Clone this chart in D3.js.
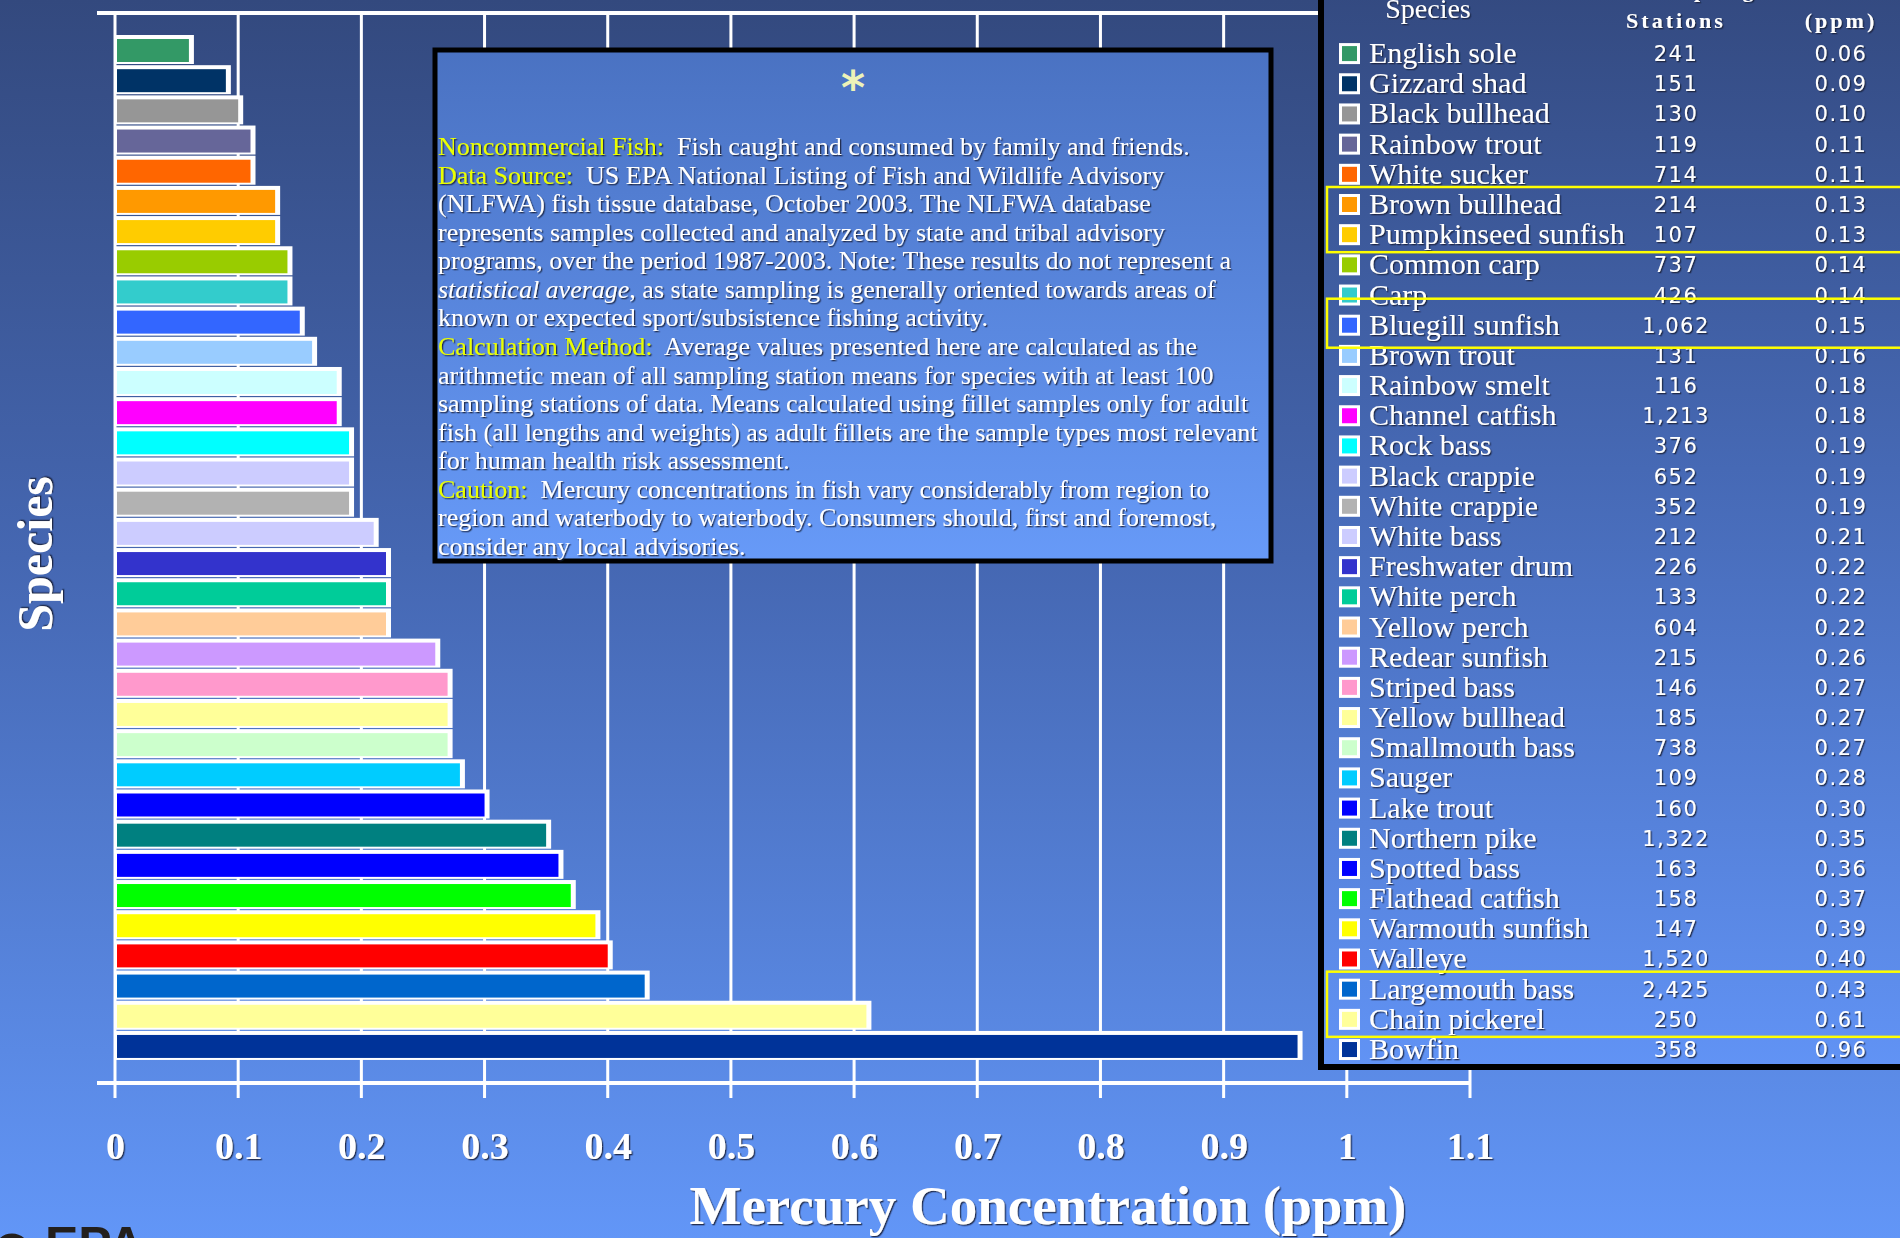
<!DOCTYPE html>
<html>
<head>
<meta charset="utf-8">
<script src="https://cdn.jsdelivr.net/npm/d3@7"></script>
<style>
  html, body { margin: 0; padding: 0; background: #33497f; overflow: hidden; }
  svg { display: block; }
  text { white-space: pre; }
</style>
</head>
<body>
<svg id="chart" width="1900" height="1238"></svg>
<script>
// ---------------- DATA ----------------
const species = ["English sole","Gizzard shad","Black bullhead","Rainbow trout","White sucker",
  "Brown bullhead","Pumpkinseed sunfish","Common carp","Carp","Bluegill sunfish","Brown trout",
  "Rainbow smelt","Channel catfish","Rock bass","Black crappie","White crappie","White bass",
  "Freshwater drum","White perch","Yellow perch","Redear sunfish","Striped bass","Yellow bullhead",
  "Smallmouth bass","Sauger","Lake trout","Northern pike","Spotted bass","Flathead catfish",
  "Warmouth sunfish","Walleye","Largemouth bass","Chain pickerel","Bowfin"];
const stations = [241,151,130,119,714,214,107,737,426,1062,131,116,1213,376,652,352,212,226,133,
  604,215,146,185,738,109,160,1322,163,158,147,1520,2425,250,358];
const mercury = [0.06,0.09,0.10,0.11,0.11,0.13,0.13,0.14,0.14,0.15,0.16,0.18,0.18,0.19,0.19,0.19,
  0.21,0.22,0.22,0.22,0.26,0.27,0.27,0.27,0.28,0.30,0.35,0.36,0.37,0.39,0.40,0.43,0.61,0.96];
const barColors = ["#339966","#003366","#969696","#666699","#ff6600","#ff9900","#ffcc00","#99cc00",
  "#33cccc","#3366ff","#99ccff","#ccffff","#ff00ff","#00ffff","#ccccff","#b2b2b2","#ccccff",
  "#3333cc","#00cc99","#ffcc99","#cc99ff","#ff99cc","#ffff99","#ccffcc","#00ccff","#0000ff",
  "#008080","#0000ff","#00ff00","#ffff00","#ff0000","#0066cc","#ffff99","#003399"];
const xTicks = [0,0.1,0.2,0.3,0.4,0.5,0.6,0.7,0.8,0.9,1.0,1.1];
const xTickLabels = ["0","0.1","0.2","0.3","0.4","0.5","0.6","0.7","0.8","0.9","1","1.1"];
const highlightGroups = [["Brown bullhead","Pumpkinseed sunfish"],["Bluegill sunfish"],["Largemouth bass","Chain pickerel"]];
const xTitle = "Mercury Concentration (ppm)";
const yTitle = "Species";
const legendHeaders = {species:"Species", stationsTop:"Sampling", stations:"Stations", ppm:"(ppm)"};
const noteLines = [
  [["Noncommercial Fish:","hl"],["  Fish caught and consumed by family and friends.",""]],
  [["Data Source:","hl"],["  US EPA National Listing of Fish and Wildlife Advisory",""]],
  [["(NLFWA) fish tissue database, October 2003. The NLFWA database",""]],
  [["represents samples collected and analyzed by state and tribal advisory",""]],
  [["programs, over the period 1987-2003. Note: These results do not represent a",""]],
  [["statistical average","it"],[", as state sampling is generally oriented towards areas of",""]],
  [["known or expected sport/subsistence fishing activity.",""]],
  [["Calculation Method:","hl"],["  Average values presented here are calculated as the",""]],
  [["arithmetic mean of all sampling station means for species with at least 100",""]],
  [["sampling stations of data. Means calculated using fillet samples only for adult",""]],
  [["fish (all lengths and weights) as adult fillets are the sample types most relevant",""]],
  [["for human health risk assessment.",""]],
  [["Caution:","hl"],["  Mercury concentrations in fish vary considerably from region to",""]],
  [["region and waterbody to waterbody. Consumers should, first and foremost,",""]],
  [["consider any local advisories.",""]]
];

// ---------------- DRAW ----------------
const W = 1900, H = 1238;
const svg = d3.select("#chart");
const defs = svg.append("defs");

function vgrad(id, stops) {
  const g = defs.append("linearGradient").attr("id", id)
    .attr("x1", 0).attr("y1", 0).attr("x2", 0).attr("y2", 1);
  stops.forEach(s => g.append("stop").attr("offset", s[0]).attr("stop-color", s[1]));
}
vgrad("bg", [[0, "#33497e"], [0.45, "#4567b2"], [1, "#6296f7"]]);
vgrad("box", [[0, "#4a72c2"], [1, "#679af8"]]);
vgrad("leg", [[0, "#33497f"], [0.45, "#4669b5"], [1, "#6193f5"]]);

const sh = defs.append("filter").attr("id", "sh").attr("x", "-5%").attr("y", "-20%").attr("width", "110%").attr("height", "140%");
sh.append("feDropShadow").attr("dx", 1.3).attr("dy", 1.3).attr("stdDeviation", 0.7)
  .attr("flood-color", "#141c3a").attr("flood-opacity", 0.85);

svg.append("rect").attr("width", W).attr("height", H).attr("fill", "url(#bg)");

const x = d3.scaleLinear().domain([0, 1.1]).range([115, 1470]);
const y = d3.scaleBand().domain(species).range([34, 34 + 34 * 30.18]).padding(0);

const topY = 13, axisY = 1083, tickEnd = 1098;

// gridlines
svg.append("g").selectAll("line").data(xTicks).join("line")
  .attr("x1", d => x(d)).attr("x2", d => x(d))
  .attr("y1", topY).attr("y2", tickEnd)
  .attr("stroke", "#ffffff").attr("stroke-width", 3);

// top and bottom axis lines
svg.append("line").attr("x1", 97).attr("x2", 1470).attr("y1", topY).attr("y2", topY)
  .attr("stroke", "#ffffff").attr("stroke-width", 4);
svg.append("line").attr("x1", 97).attr("x2", x(1.1)).attr("y1", axisY).attr("y2", axisY)
  .attr("stroke", "#ffffff").attr("stroke-width", 4);

// bars
const bars = svg.append("g");
bars.selectAll("rect.frame").data(species).join("rect").attr("class", "frame")
  .attr("x", x(0)).attr("y", d => y(d) + 1)
  .attr("width", (d, i) => x(mercury[i]) - x(0) + 5)
  .attr("height", 29).attr("fill", "#ffffff");
bars.selectAll("rect.bar").data(species).join("rect").attr("class", "bar")
  .attr("x", x(0) + 2).attr("y", d => y(d) + 5)
  .attr("width", (d, i) => x(mercury[i]) - x(0) - 2)
  .attr("height", 23).attr("fill", (d, i) => barColors[i]);

// x tick labels
const xAxis = d3.axisBottom(x).tickValues(xTicks).tickFormat((d, i) => xTickLabels[i]).tickSize(0).tickPadding(0);
const xg = svg.append("g").attr("transform", `translate(0,${1127})`).call(xAxis);
xg.select(".domain").remove();
xg.selectAll("text").attr("fill", "#ffffff").attr("font-family", "Liberation Serif, serif")
  .attr("font-weight", "bold").attr("font-size", 38).attr("dy", 0).attr("y", 32)
  .attr("filter", "url(#sh)");

// axis titles
svg.append("text").attr("x", 1048).attr("y", 1224).attr("text-anchor", "middle")
  .attr("fill", "#ffffff").attr("font-family", "Liberation Serif, serif").attr("font-weight", "bold")
  .attr("font-size", 55).attr("filter", "url(#sh)").text(xTitle);
svg.append("text").attr("transform", "translate(52,554) rotate(-90)").attr("text-anchor", "middle")
  .attr("fill", "#ffffff").attr("font-family", "Liberation Serif, serif").attr("font-weight", "bold")
  .attr("font-size", 50).attr("filter", "url(#sh)").text(yTitle);

// notes box
const box = {x: 435, y: 50, w: 836, h: 511};
svg.append("rect").attr("x", box.x).attr("y", box.y).attr("width", box.w).attr("height", box.h)
  .attr("fill", "url(#box)").attr("stroke", "#000000").attr("stroke-width", 5);
svg.append("text").attr("x", 853).attr("y", 104).attr("text-anchor", "middle")
  .attr("fill", "#eef3b8").attr("font-family", "DejaVu Sans, sans-serif").attr("font-size", 46)
  .attr("font-weight", "bold").text("*");
const notes = svg.append("g").attr("filter", "url(#sh)");
const nt = notes.selectAll("text").data(noteLines).join("text")
  .attr("x", 0).attr("y", (d, i) => 155 + i * 28.57)
  .attr("font-family", "Liberation Serif, serif").attr("font-size", 26).attr("fill", "#ffffff");
nt.selectAll("tspan").data(d => d).join("tspan")
  .attr("fill", d => d[1] === "hl" ? "#eaff00" : "#ffffff")
  .attr("font-style", d => d[1] === "it" ? "italic" : "normal")
  .text(d => d[0]);
// fit the longest line to the box width
let maxW = 0;
nt.each(function () { maxW = Math.max(maxW, this.getComputedTextLength()); });
const sx = Math.min(1, 822 / maxW);
notes.attr("transform", `translate(438,0) scale(${sx},1)`);

// legend panel
svg.append("rect").attr("x", 1321).attr("y", -20).attr("width", 700).attr("height", 1087)
  .attr("fill", "url(#leg)").attr("stroke", "#000000").attr("stroke-width", 6);

const leg = svg.append("g");
const rowC = d => y(d) + y.bandwidth() / 2 + 4;
const hdrStyle = s => s.attr("fill", "#ffffff").attr("font-family", "Liberation Serif, serif").attr("filter", "url(#sh)");
hdrStyle(leg.append("text").attr("x", 1428).attr("y", 18).attr("text-anchor", "middle").attr("font-size", 28).text(legendHeaders.species));
hdrStyle(leg.append("text").attr("x", 1700).attr("y", -3).attr("text-anchor", "middle").attr("font-size", 22).attr("font-weight", "bold").attr("letter-spacing", 3).text(legendHeaders.stationsTop));
hdrStyle(leg.append("text").attr("x", 1676).attr("y", 28).attr("text-anchor", "middle").attr("font-size", 22).attr("font-weight", "bold").attr("letter-spacing", 3).text(legendHeaders.stations));
hdrStyle(leg.append("text").attr("x", 1841).attr("y", 28).attr("text-anchor", "middle").attr("font-size", 22).attr("font-weight", "bold").attr("letter-spacing", 3).text(legendHeaders.ppm));

const rows = leg.selectAll("g.row").data(species).join("g").attr("class", "row")
  .attr("transform", d => `translate(0,${rowC(d)})`);
rows.append("rect").attr("x", 1339).attr("y", -10).attr("width", 21).attr("height", 21).attr("fill", "#ffffff");
rows.append("rect").attr("x", 1342).attr("y", -7).attr("width", 15).attr("height", 15).attr("fill", (d, i) => barColors[i]);
rows.append("text").attr("x", 1369).attr("y", 10).attr("fill", "#ffffff")
  .attr("font-family", "Liberation Serif, serif").attr("font-size", 30).attr("filter", "url(#sh)").text(d => d);
rows.append("text").attr("x", 1676).attr("y", 8).attr("text-anchor", "middle").attr("fill", "#ffffff")
  .attr("font-family", "DejaVu Sans, sans-serif").attr("font-size", 21).attr("letter-spacing", 1.5)
  .attr("filter", "url(#sh)").text((d, i) => d3.format(",")(stations[i]));
rows.append("text").attr("x", 1841).attr("y", 8).attr("text-anchor", "middle").attr("fill", "#ffffff")
  .attr("font-family", "DejaVu Sans, sans-serif").attr("font-size", 21).attr("letter-spacing", 1.5)
  .attr("filter", "url(#sh)").text((d, i) => d3.format(".2f")(mercury[i]));

// highlight boxes
leg.selectAll("rect.hl").data(highlightGroups).join("rect").attr("class", "hl")
  .attr("x", 1327)
  .attr("y", g => rowC(g[0]) - (g.length === 1 ? 26 : 17))
  .attr("width", 700)
  .attr("height", g => rowC(g[g.length - 1]) - rowC(g[0]) + (g.length === 1 ? 49 : 35))
  .attr("fill", "none").attr("stroke", "#ffff00").attr("stroke-width", 2.5);

// partially visible EPA logo (bottom-left corner)
svg.append("circle").attr("cx", 12).attr("cy", 1252).attr("r", 15).attr("fill", "#ffffff")
  .attr("stroke", "#231f1c").attr("stroke-width", 7);
svg.append("text").attr("x", 45).attr("y", 1262).attr("fill", "#231f1c")
  .attr("font-family", "Liberation Sans, sans-serif").attr("font-weight", "bold").attr("font-size", 50)
  .text("EPA");
</script>
</body>
</html>
